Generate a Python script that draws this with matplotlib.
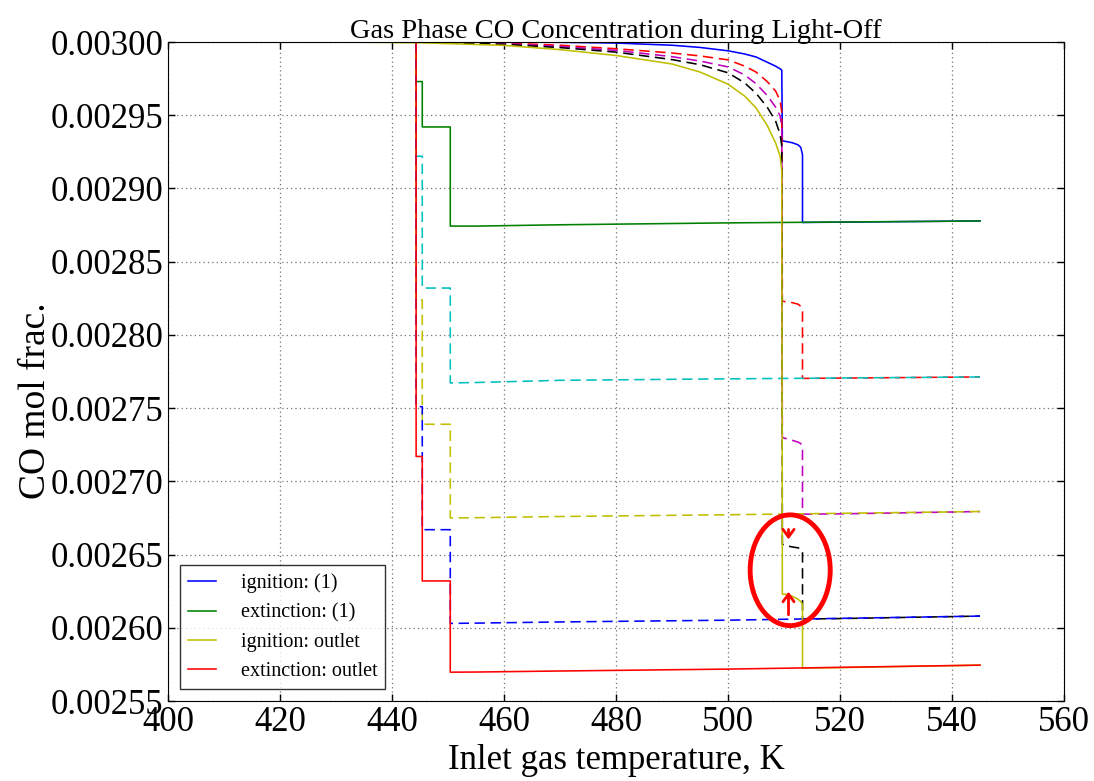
import matplotlib.pyplot as plt
from matplotlib.patches import Ellipse
from matplotlib.ticker import FormatStrFormatter, MultipleLocator

plt.rcParams['font.family'] = ['Liberation Serif', 'DejaVu Serif']

# ignition sweep: inlet temperature rising, light-off near 509.7 K and 513.3 K
T_ign = [430, 445, 460, 470, 480, 490, 495, 500, 503, 505, 507, 508.5, 509.3, 509.6,
         509.7, 510.5, 511.5, 512.5, 513.0, 513.3,
         513.3, 520, 545]

co_ign_1 = [0.003, 0.003, 0.0030, 0.0029998, 0.0029993, 0.0029978, 0.0029963, 0.0029940,
            0.0029918, 0.0029898, 0.0029862, 0.0029835, 0.0029817, 0.0029808,
            0.0029325, 0.0029320, 0.0029312, 0.0029298, 0.0029280, 0.0029230,
            0.0028768, 0.0028770, 0.0028778]
co_ign_2 = [0.003, 0.003, 0.0029993, 0.0029978, 0.0029954, 0.0029925, 0.0029905, 0.0029878,
            0.0029835, 0.0029795, 0.0029730, 0.0029665, 0.0029600, 0.0029520,
            0.0028230, 0.0028226, 0.0028220, 0.0028210, 0.0028195, 0.0028160,
            0.0027703, 0.0027705, 0.0027713]
co_ign_3 = [0.003, 0.003, 0.0029989, 0.0029970, 0.0029943, 0.0029900, 0.0029870, 0.0029830,
            0.0029775, 0.0029715, 0.0029635, 0.0029555, 0.0029496, 0.0029420,
            0.0027300, 0.0027290, 0.0027280, 0.0027268, 0.0027258, 0.0027235,
            0.0026776, 0.0026778, 0.0026794]
co_ign_4 = [0.003, 0.003, 0.0029984, 0.0029962, 0.0029931, 0.0029880, 0.0029845, 0.0029790,
            0.0029720, 0.0029650, 0.0029555, 0.0029460, 0.0029370, 0.0029290,
            0.0026570, 0.0026560, 0.0026552, 0.0026546, 0.0026540, 0.0026520,
            0.0026060, 0.0026063, 0.0026080]
co_ign_out = [0.003, 0.0029995, 0.0029977, 0.0029948, 0.0029908, 0.0029850, 0.0029795, 0.0029712,
              0.0029630, 0.0029550, 0.0029430, 0.0029310, 0.0029220, 0.0029120,
              0.0026230, 0.0026228, 0.0026215, 0.0026195, 0.0026178, 0.0026160,
              0.0025725, 0.0025728, 0.0025745]

# extinction sweep: inlet temperature falling, blow-out steps at 450.4, 445.4 and 444.3 K
T_ext = [545, 500, 470, 455, 450.4, 450.4, 445.4, 445.4, 444.3, 444.3, 430]

co_ext_1 = [0.0028778, 0.0028765, 0.0028752, 0.0028743, 0.0028743, 0.0029420, 0.0029420,
            0.0029730, 0.0029730, 0.003, 0.003]
co_ext_2 = [0.0027713, 0.0027700, 0.0027690, 0.0027675, 0.0027672, 0.0028320, 0.0028320,
            0.0029220, 0.0029220, 0.003, 0.003]
co_ext_3 = [0.0026794, 0.0026772, 0.0026760, 0.0026752, 0.0026750, 0.0027390, 0.0027390,
            0.0028240, 0.0028240, 0.003, 0.003]
co_ext_4 = [0.0026080, 0.0026052, 0.0026040, 0.0026032, 0.0026030, 0.0026670, 0.0026670,
            0.0027510, 0.0027510, 0.003, 0.003]
co_ext_out = [0.0025745, 0.0025718, 0.0025705, 0.0025698, 0.0025697, 0.0026320, 0.0026320,
              0.0027170, 0.0027170, 0.003, 0.003]

# ignition branches meeting near 511 K (highlighted)
T_mark = 510.8
arrow_down = (0.0026690, 0.0026585)
arrow_up = (0.0026070, 0.0026265)

fig = plt.figure(figsize=(10.94, 7.81), dpi=100)
ax = fig.add_axes([0.1536, 0.1024, 0.819, 0.8438])

lw = 1.15
dash = (6.5, 3.5)
ax.plot(T_ign, co_ign_1, color='b', lw=lw, label='ignition: (1)')
ax.plot(T_ext, co_ext_1, color='g', lw=lw, label='extinction: (1)')
ax.plot(T_ign, co_ign_2, color='r', lw=lw, ls='--', dashes=dash)
ax.plot(T_ext, co_ext_2, color='c', lw=lw, ls='--', dashes=dash)
ax.plot(T_ign, co_ign_3, color='m', lw=lw, ls='--', dashes=dash)
ax.plot(T_ext, co_ext_3, color='y', lw=lw, ls='--', dashes=dash)
ax.plot(T_ign, co_ign_4, color='k', lw=lw, ls='--', dashes=dash)
ax.plot(T_ext, co_ext_4, color='b', lw=lw, ls='--', dashes=dash)
ax.plot(T_ign, co_ign_out, color='y', lw=lw, label='ignition: outlet')
ax.plot(T_ext, co_ext_out, color='r', lw=lw, label='extinction: outlet')

ax.add_patch(Ellipse((511.1, 0.0026393), width=14.3, height=0.0000756,
                     fill=False, ec='red', lw=3.5, zorder=5))
for y0, y1 in (arrow_down, arrow_up):
    ax.annotate('', xy=(T_mark, y1), xytext=(T_mark, y0),
                arrowprops=dict(arrowstyle='->,head_width=0.4,head_length=0.55',
                                color='red', lw=2), zorder=5)

ax.set_xlim(400, 560)
ax.set_ylim(0.00255, 0.00300)
ax.xaxis.set_major_locator(MultipleLocator(20))
ax.yaxis.set_major_locator(MultipleLocator(0.00005))
ax.yaxis.set_major_formatter(FormatStrFormatter('%.5f'))
ax.tick_params(direction='in', length=5, width=1, labelsize=25,
               top=True, right=True)
ax.grid(True, color='0.45', linestyle=(0, (1, 2.5)), lw=0.9)

ax.set_title('Gas Phase CO Concentration during Light-Off', fontsize=20.5, pad=3)
ax.set_xlabel('Inlet gas temperature, K', fontsize=25, labelpad=4)
ax.set_ylabel('CO mol frac.', fontsize=27)
ax.yaxis.set_label_coords(-0.128, 0.455)

leg = ax.legend(loc='lower left', fontsize=14.5, handlelength=1.4, handletextpad=1.2,
                fancybox=False, borderaxespad=0.6)
leg.get_frame().set_edgecolor('black')
leg.get_frame().set_linewidth(1.0)

fig.savefig('out.png', dpi=100)
